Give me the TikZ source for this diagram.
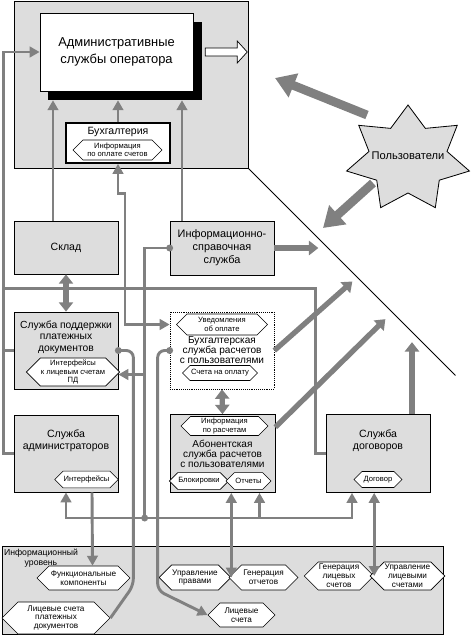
\documentclass[tikz,border=0pt]{standalone}
\usepackage{fontspec}
\setmainfont{Liberation Sans}
\usetikzlibrary{arrows.meta, calc, shapes.symbols}

\definecolor{panelgray}{RGB}{221,221,221}
\definecolor{linkgray}{RGB}{128,128,128}

\tikzset{
  panel/.style={draw=black, fill=panelgray, line width=0.8pt, inner sep=0pt},
  box/.style={draw=black, fill=panelgray, line width=0.6pt, inner sep=0pt},
  boxtitle/.style={align=center, inner sep=0pt, font=\fontsize{9}{10.5}\selectfont},
  tighttitle/.style={boxtitle, font=\fontsize{8.6}{8.5}\selectfont},
  hexa/.style={signal, signal to=east and west, draw=black, fill=white, line width=0.5pt,
    inner sep=0.5pt, align=center, font=\fontsize{6.5}{7}\selectfont},
  lowhexa/.style={hexa, font=\fontsize{7}{7.6}\selectfont},
  link/.style={draw=linkgray, line width=2.5pt},
  fatlink/.style={draw=linkgray, line width=4.5pt},
  userlink/.style={draw=linkgray, line width=7.5pt, -{Triangle[length=17pt,width=21pt]}},
  fattip/.tip={Triangle[length=8pt,width=12pt]},
  knot/.style={fill=linkgray},
}

\begin{document}
\begin{tikzpicture}[x=0.03cm, y=-0.03cm, >={Triangle[length=8.5pt,width=9pt]}]
\useasboundingbox (0,0) rectangle (471,636);

% panels
\node[panel, minimum width=7.02cm, minimum height=5.01cm] (operator) at (131,84.5) {};
\node[panel, minimum width=13.23cm, minimum height=2.64cm] (infolevel) at (222.5,590) {};
\node[align=center, font=\fontsize{7.4}{8.6}\selectfont] (levelname) at (41,558) {Информационный\\уровень};

% operator services
\node[fill=black, minimum width=4.62cm, minimum height=2.34cm] (adminsh) at (125,61) {};
\node[draw=black, fill=white, line width=0.6pt, minimum width=4.59cm, minimum height=2.34cm,
  align=center, font=\fontsize{11}{14.5}\selectfont] (admin) at (116.5,52) {Административные\\службы оператора};
\draw[fill=white, line width=0.6pt] ($(adminsh.east |- admin.east)+(3,-4)$) -- ++(32,0) -- ++(0,-7)
  -- ++(10,11) -- ++(-10,11) -- ++(0,-7) -- ++(-32,0) -- cycle;
\node[draw=black, fill=white, line width=1.4pt, minimum width=3.12cm, minimum height=1.2cm] (buh) at (118,143) {};
\node[boxtitle] (buhtitle) at (118,132) {Бухгалтерия};
\node[hexa, minimum width=2.67cm, minimum height=0.6cm] (buhinfo) at (117.5,150) {Информация\\по оплате счетов};

% services
\node[box, minimum width=3.12cm, minimum height=1.59cm, boxtitle] (sklad) at (66,247.5) {Склад};
\node[box, minimum width=3.12cm, minimum height=1.62cm, boxtitle, font=\fontsize{9.3}{11}\selectfont] (spravka) at (222,248) {Информационно-\\справочная\\служба};

\node[box, minimum width=3.12cm, minimum height=2.31cm] (podderzhka) at (66,350.5) {};
\node[boxtitle, font=\fontsize{8.8}{9.8}\selectfont] (podtitle) at (66,337) {Служба поддержки\\платежных\\документов};
\node[hexa, minimum width=2.4cm, minimum height=0.84cm] (podint) at (73,372) {Интерфейсы\\к лицевым счетам\\ПД};

\node[draw=black, densely dotted, fill=white, line width=0.6pt, minimum width=3.12cm, minimum height=2.31cm] (buhsl) at (222,350.5) {};
\node[hexa, minimum width=2.73cm, minimum height=0.63cm] (uved) at (222,324.5) {Уведомления\\об оплате};
\node[tighttitle] (buhsltitle) at (222,350) {Бухгалтерская\\служба расчетов\\с пользователями};
\node[hexa, minimum width=2.25cm, minimum height=0.45cm] (scheta) at (220,373) {Счета на оплату};

\node[box, minimum width=3.15cm, minimum height=2.34cm] (abon) at (222.5,453.5) {};
\node[hexa, minimum width=2.61cm, minimum height=0.57cm] (absinfo) at (224.5,426) {Информация\\по расчетам};
\node[tighttitle] (abontitle) at (222.5,454) {Абонентская\\служба расчетов\\с пользователями};
\node[hexa, minimum width=1.62cm, minimum height=0.5cm] (blok) at (199,481) {Блокировки};
\node[hexa, minimum width=1.35cm, minimum height=0.5cm] (otchety) at (248.5,481) {Отчеты};

\node[box, minimum width=3.12cm, minimum height=2.34cm] (dogovory) at (378,453.5) {};
\node[boxtitle] (dogtitle) at (378,440.5) {Служба\\договоров};
\node[hexa, minimum width=1.44cm, minimum height=0.48cm] (dogovor) at (378,479.5) {Договор};

\node[box, minimum width=3.12cm, minimum height=2.31cm] (adminsl) at (66,453.5) {};
\node[boxtitle] (admtitle) at (66,441) {Служба\\администраторов};
\node[hexa, minimum width=1.83cm, minimum height=0.5cm] (interf) at (86.5,479.5) {Интерфейсы};

% information level
\node[lowhexa, minimum width=2.79cm, minimum height=0.72cm] (funk) at (83.5,578) {Функциональные\\компоненты};
\node[lowhexa, minimum width=3.24cm, minimum height=0.96cm] (lspd) at (56,618) {Лицевые счета\\платежных\\документов};
\node[lowhexa, minimum width=1.98cm, minimum height=0.75cm] (uprav) at (195,577.5) {Управление\\правами};
\node[lowhexa, minimum width=2.07cm, minimum height=0.75cm] (genotch) at (263.5,577.5) {Генерация\\отчетов};
\node[lowhexa, minimum width=2.01cm, minimum height=0.72cm] (lsch) at (241.5,615) {Лицевые\\счета};
\node[lowhexa, minimum width=2.04cm, minimum height=0.84cm] (genls) at (339,576) {Генерация\\лицевых\\счетов};
\node[lowhexa, minimum width=2.07cm, minimum height=0.84cm] (upravls) at (407.5,576) {Управление\\лицевыми\\счетами};

% users
\coordinate (userc) at (408,159);
\draw[fill=panelgray, line width=0.7pt, shift={(userc)}]
  plot[samples at={0,...,13}, variable=\k]
  ({(mod(\k,2)==0 ? 63 : 40)*cos(90+\k*360/14)}, {-(mod(\k,2)==0 ? 54 : 34)*sin(90+\k*360/14)}) -- cycle;
\node[font=\fontsize{9.5}{11}\selectfont] (users) at ($(userc)+(0,-3)$) {Пользователи};
\draw[userlink] ($(userc)+(-41,-44)$) -- ++(-92,-37);
\draw[userlink] ($(userc)+(-35,24)$) -- ++(-50,45);
\draw[line width=0.9pt] (operator.south east) -- ++(207,207);

% links to the operator services
\coordinate (skladup) at ($(sklad.north)+(-13,0)$);
\coordinate (spravkaup) at ($(spravka.north)+(-40,0)$);
\draw[link,->] (skladup) -- (skladup |- adminsh.south);
\draw[link,->] (buh.north) -- (buh.north |- adminsh.south);
\draw[link,->] (spravkaup) -- (spravkaup |- adminsh.south);
\draw[link,->] (adminsl.west) -- ++(-10,0) |- (admin.west);
\draw[link] (podderzhka.west) -- ++(-10,0);
\coordinate (lbus) at ($(podderzhka.north west)+(-10,-23)$);
\draw[link] (lbus) -| ($(dogovory.west)+(-10,0)$) -- (dogovory.west);
\draw[fatlink, fattip-fattip] (sklad.south) -- (podderzhka.north);

% reference service bus
\draw[fatlink,-fattip] (spravka.east) -- ++(44,0);
\coordinate (jn) at ($(spravka.west)+(-25,270)$);
\coordinate (dogup) at ($(dogovory.south)+(-26,0)$);
\coordinate (abup) at ($(abon.south)+(37,0)$);
\coordinate (pdin) at ($(podderzhka.east)+(0,24)$);
\draw[link] (spravka.west) -| (jn);
\draw[link,->] (jn) -| (adminsl.south);
\draw[link,->] (jn) -| (dogup);
\draw[link,->] (abup |- jn) -- (abup);
\draw[link,->] (jn |- pdin) -- (pdin);
\fill[knot] (spravka.west) circle (3.5);
\fill[knot] (jn) circle (3.5);

% accounting
\draw[link,<->] (buh.south) -- ++(0,30) -- ++(7,0) |- (buhsl.west |- uved.west);
\draw[link, rounded corners=6pt] (podderzhka.east) -- ++(15,0) -- ++(0,235) -- (lspd.east);
\draw[link,->, rounded corners=6pt] (buhsl.west) -- ++(-12,0) -- ++(0,240) -- (lsch.west);
\fill[knot] (podderzhka.east) circle (3.5);
\fill[knot] (buhsl.west) circle (3.5);
\draw[fatlink, fattip-fattip] (buhsl.south) -- (abon.north);
\draw[fatlink,-fattip] (buhsl.east) -- ++(78,-69);
\coordinate (abright) at ($(abon.north east)+(0,13)$);
\draw[fatlink,-fattip] (abright) -- ++(110,-108);
\draw[fatlink,-fattip] ($(dogovory.north)+(34,0)$) -- ++(0,-72);

% information level links
\draw[link,->] ($(adminsl.south)+(26,0)$) -- ($(funk.north)+(9,0)$);
\draw[link,<->] (uprav.east |- abon.south) -- (uprav.east);
\draw[link,<->] (genls.east |- dogovory.south) -- (genls.east);
\end{tikzpicture}
\end{document}
